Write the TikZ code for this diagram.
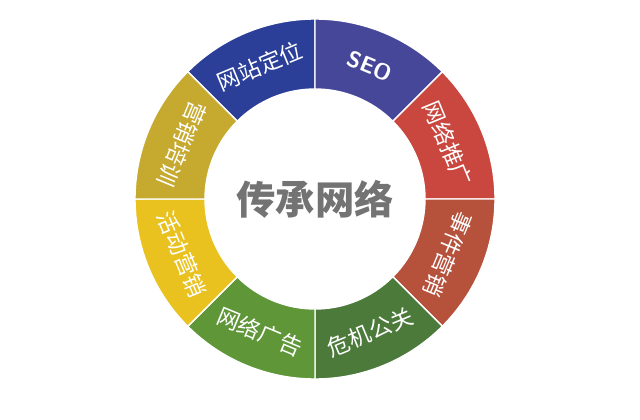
\documentclass[tikz,border=0pt]{standalone}
\usepackage{fontspec}
\usetikzlibrary{calc}
\newfontfamily\cjk{Noto Sans CJK SC}
\definecolor{segA}{HTML}{2B3F99}
\definecolor{segB}{HTML}{47479A}
\definecolor{segC}{HTML}{C9473F}
\definecolor{segD}{HTML}{B6513C}
\definecolor{segE}{HTML}{4B7A3B}
\definecolor{segF}{HTML}{5E9638}
\definecolor{segG}{HTML}{E9C21F}
\definecolor{segH}{HTML}{C6A92F}
\begin{document}
\begin{tikzpicture}[seglabel/.style = {text=white, font=\cjk\fontsize{16}{16}\selectfont}]
		\useasboundingbox (0,0) rectangle (16,10.475);
		\coordinate (c) at (7.875,5.5);
		% Ring
		\foreach \a/\col in {90/segA,45/segB,0/segC,-45/segD,-90/segE,-135/segF,-180/segG,-225/segH}
		{
			\fill[\col, draw=white, line width=1pt] ($(c)+(\a:2.75)$) arc (\a:\a+45:2.75) -- ($(c)+(\a+45:4.5)$) arc (\a+45:\a:4.5) -- cycle;
		}
		% Labels
		\node[seglabel, rotate=22.5] (lA) at ($(c)+(112.5:3.6)$) {网站定位};
		\node[seglabel, rotate=-22.5, font=\sffamily\bfseries\fontsize{16}{16}\selectfont] (lB) at ($(c)+(67.5:3.6)$) {SEO};
		\node[seglabel, rotate=-67.5] (lC) at ($(c)+(22.5:3.6)$) {网络推广};
		\node[seglabel, rotate=-112.5] (lD) at ($(c)+(-22.5:3.6)$) {事件营销};
		\node[seglabel, rotate=22.5] (lE) at ($(c)+(-67.5:3.6)$) {危机公关};
		\node[seglabel, rotate=-22.5] (lF) at ($(c)+(-112.5:3.6)$) {网络广告};
		\node[seglabel, rotate=-67.5] (lG) at ($(c)+(-157.5:3.6)$) {活动营销};
		\node[seglabel, rotate=-112.5] (lH) at ($(c)+(157.5:3.6)$) {营销培训};
		% Centre
		\node[text=gray!90!black, font=\cjk\bfseries\fontsize{28}{28}\selectfont] (title) at (c) {传承网络};
\end{tikzpicture}
\end{document}
